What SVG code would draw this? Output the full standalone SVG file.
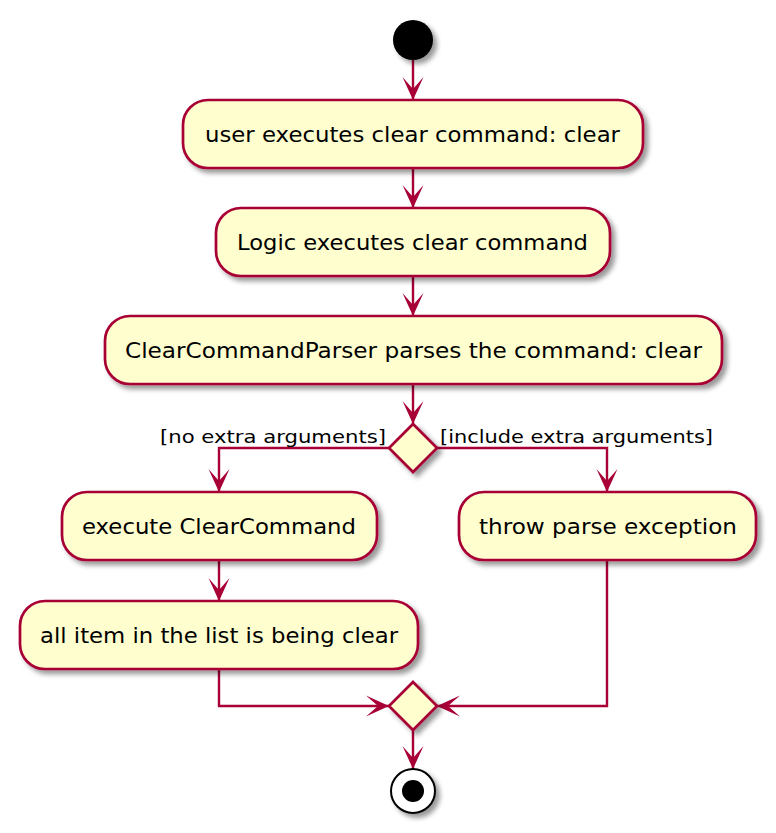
<svg xmlns="http://www.w3.org/2000/svg" width="776" height="833" viewBox="0 0 776 833">
<defs>
<filter id="sh" x="-20%" y="-20%" width="140%" height="160%">
<feDropShadow dx="4" dy="4" stdDeviation="2.5" flood-color="#000" flood-opacity="0.4"/>
</filter>
<marker id="arr" markerUnits="userSpaceOnUse" viewBox="-24 -12 25 24" markerWidth="25" markerHeight="24" refX="0" refY="0" orient="auto">
<polygon points="0,0 -23,-10.5 -11,0 -23,10.5" fill="#A80036"/>
</marker>
</defs>
<style>
.act{fill:#FEFECE;stroke:#A80036;stroke-width:2.7;filter:url(#sh)}
.dia{fill:#FEFECE;stroke:#A80036;stroke-width:2.7;filter:url(#sh)}
.t{font-family:"DejaVu Sans",sans-serif;font-size:21px;fill:#000;text-anchor:middle}
.lbl{font-family:"DejaVu Sans",sans-serif;font-size:18px;fill:#000}
.con{fill:none;stroke:#A80036;stroke-width:2.4;marker-end:url(#arr)}
</style>
<rect width="776" height="833" fill="#fff"/>
<g id="connectors">
<path class="con" d="M413,60 V100"/>
<path class="con" d="M413,168 V208"/>
<path class="con" d="M413,276 V316"/>
<path class="con" d="M413,384 V424"/>
<path class="con" d="M389,448 H219 V492"/>
<path class="con" d="M437,448 H607 V492"/>
<path class="con" d="M219,560 V601"/>
<path class="con" d="M219,669 V706 H389"/>
<path class="con" d="M607,560 V706 H437"/>
<path class="con" d="M413,730 V769"/>
</g>
<g id="start">
<circle cx="413" cy="40" r="20" fill="#000" filter="url(#sh)"/>
</g>
<g id="userExecutes">
<rect class="act" x="183" y="100" width="460" height="68" rx="25"/>
<text class="t" x="412.5" y="142" textLength="415" lengthAdjust="spacingAndGlyphs">user executes clear command: clear</text>
</g>
<g id="logicExecutes">
<rect class="act" x="216" y="208" width="394" height="68" rx="25"/>
<text class="t" x="412.5" y="250" textLength="351" lengthAdjust="spacingAndGlyphs">Logic executes clear command</text>
</g>
<g id="parserParses">
<rect class="act" x="105" y="316" width="617" height="68" rx="25"/>
<text class="t" x="413.5" y="358" textLength="577" lengthAdjust="spacingAndGlyphs">ClearCommandParser parses the command: clear</text>
</g>
<g id="decision">
<polygon class="dia" points="413,424 437,448 413,472 389,448"/>
<text class="lbl" x="386" y="443" text-anchor="end" textLength="226" lengthAdjust="spacingAndGlyphs">[no extra arguments]</text>
<text class="lbl" x="440" y="443" textLength="273" lengthAdjust="spacingAndGlyphs">[include extra arguments]</text>
</g>
<g id="executeClear">
<rect class="act" x="62" y="492" width="315" height="68" rx="25"/>
<text class="t" x="219" y="534" textLength="274" lengthAdjust="spacingAndGlyphs">execute ClearCommand</text>
</g>
<g id="throwParse">
<rect class="act" x="459" y="492" width="297" height="68" rx="25"/>
<text class="t" x="608" y="534" textLength="258" lengthAdjust="spacingAndGlyphs">throw parse exception</text>
</g>
<g id="allItemCleared">
<rect class="act" x="20" y="601" width="398" height="68" rx="25"/>
<text class="t" x="219" y="643" textLength="358" lengthAdjust="spacingAndGlyphs">all item in the list is being clear</text>
</g>
<g id="merge">
<polygon class="dia" points="413,682 437,706 413,730 389,706"/>
</g>
<g id="end">
<circle cx="413" cy="791" r="22" fill="#fff" stroke="#000" stroke-width="2" filter="url(#sh)"/>
<circle cx="413" cy="791" r="11" fill="#000"/>
</g>
</svg>
